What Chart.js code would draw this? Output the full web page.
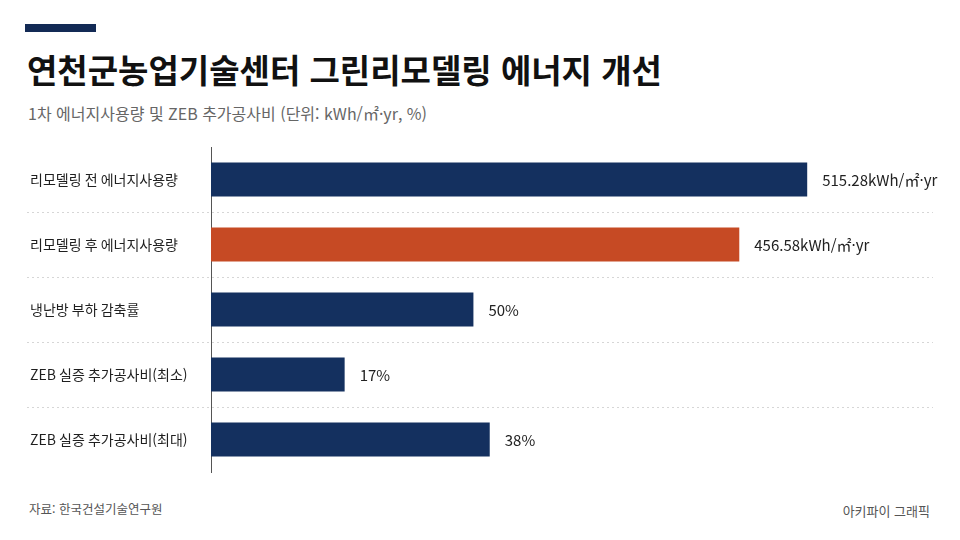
<!DOCTYPE html>
<html lang="ko">
<head>
<meta charset="utf-8">
<script src="https://cdn.jsdelivr.net/npm/chart.js@4.4.1/dist/chart.umd.min.js"></script>
<style>
  html, body { margin: 0; padding: 0; background: #fff; }
  body { width: 960px; height: 540px; position: relative; overflow: hidden;
         font-family: "Noto Sans CJK KR", "Noto Sans", sans-serif; }
  .accent { position: absolute; left: 25px; top: 24px; width: 71px; height: 8px; background: #132a55; }
  h1 { position: absolute; left: 27px; top: 41px; margin: 0; font-size: 33px; line-height: 56px;
       font-weight: 700; color: #111; letter-spacing: 0; }
  .sub { position: absolute; left: 28px; top: 100px; margin: 0; font-size: 16px; line-height: 26px; color: #666; }
  .src { position: absolute; left: 29px; top: 498px; font-size: 12.5px; line-height: 22px; color: #555; }
  .brand { position: absolute; right: 30px; top: 500px; font-size: 13px; line-height: 22px; color: #555; }
  #wrap { position: absolute; left: 0; top: 130px; width: 960px; height: 360px; }
</style>
</head>
<body>
<div class="accent"></div>
<h1>연천군농업기술센터 그린리모델링 에너지 개선</h1>
<p class="sub">1차 에너지사용량 및 ZEB 추가공사비 (단위: kWh/㎡·yr, %)</p>
<div id="wrap"><canvas id="chart"></canvas></div>
<div class="src">자료: 한국건설기술연구원</div>
<div class="brand">아키파이 그래픽</div>
<script>
const categories = [
  "리모델링 전 에너지사용량",
  "리모델링 후 에너지사용량",
  "냉난방 부하 감축률",
  "ZEB 실증 추가공사비(최소)",
  "ZEB 실증 추가공사비(최대)"
];
// values shown next to each bar
const values = [515.28, 456.58, 50, 17, 38];
const units = ["kWh/㎡·yr", "kWh/㎡·yr", "%", "%", "%"];
// bar lengths as drawn in the picture (kWh scale; % bars are not to scale)
const barLengths = [515.28, 456.58, 226.8, 115.5, 240.9];
const barColors = ["#14305f", "#c64a24", "#14305f", "#14305f", "#14305f"];

const rowLines = {
  id: "rowLines",
  beforeDatasetsDraw(chart) {
    const { ctx, chartArea, scales } = chart;
    const y = scales.y;
    ctx.save();
    ctx.strokeStyle = "#d6d6d6";
    ctx.lineWidth = 1;
    ctx.setLineDash([2, 3]);
    for (let i = 0; i < categories.length - 1; i++) {
      const py = Math.round((y.getPixelForValue(i) + y.getPixelForValue(i + 1)) / 2) + 0.5;
      ctx.beginPath();
      ctx.moveTo(27, py);
      ctx.lineTo(chartArea.right, py);
      ctx.stroke();
    }
    ctx.restore();
  }
};

const valueLabels = {
  id: "valueLabels",
  afterDatasetsDraw(chart) {
    const { ctx } = chart;
    const meta = chart.getDatasetMeta(0);
    ctx.save();
    ctx.font = '15px "Noto Sans CJK KR", "Noto Sans", sans-serif';
    ctx.fillStyle = "#222";
    ctx.textBaseline = "middle";
    meta.data.forEach((bar, i) => {
      ctx.fillText(values[i] + units[i], bar.x + 15, bar.y + 1);
    });
    ctx.restore();
  }
};

new Chart(document.getElementById("chart"), {
  type: "bar",
  data: {
    labels: categories,
    datasets: [{
      data: barLengths,
      backgroundColor: barColors,
      barPercentage: 0.7,
      categoryPercentage: 0.75
    }]
  },
  options: {
    indexAxis: "y",
    responsive: true,
    maintainAspectRatio: false,
    animation: false,
    layout: { padding: { left: 30, right: 27, top: 17, bottom: 18 } },
    plugins: { legend: { display: false }, tooltip: { enabled: false } },
    scales: {
      x: { display: false, min: 0, max: 624 },
      y: {
        afterFit(scale) { scale.width = 181; },
        grid: { display: false },
        border: { display: true, color: "#555", width: 1 },
        ticks: {
          crossAlign: "far",
          color: "#1f1f1f",
          font: { family: '"Noto Sans CJK KR", "Noto Sans", sans-serif', size: 14 }
        }
      }
    }
  },
  plugins: [rowLines, valueLabels]
});
</script>
</body>
</html>
